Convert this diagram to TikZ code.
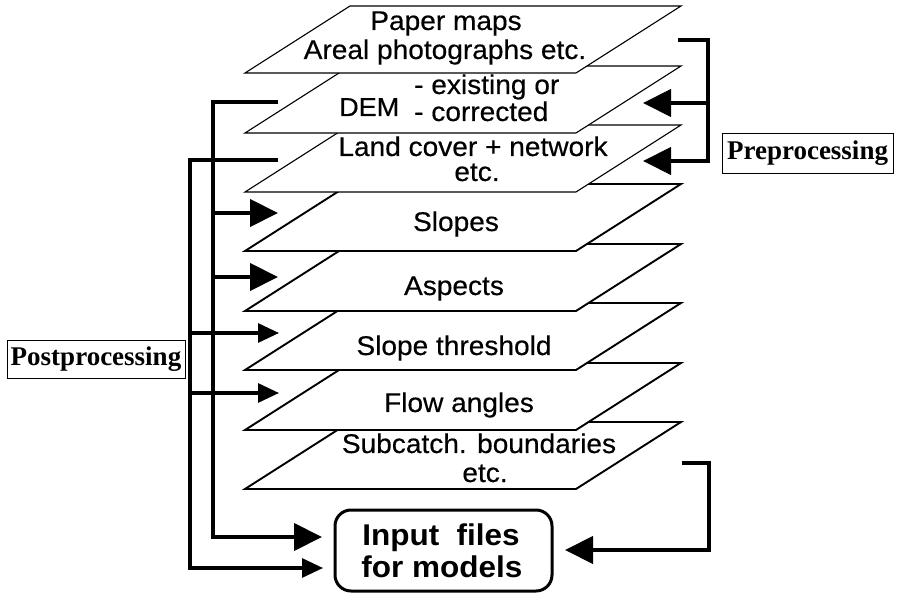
\documentclass[tikz,border=0pt]{standalone}
\usepackage{fontspec}
\setmainfont{Liberation Sans}
\newfontfamily\layfont[FakeStretch=1.04,FakeBold=0.4]{Liberation Sans}
\newfontfamily\boxfont[FakeStretch=1.05]{Liberation Sans}
\newfontfamily\procfont{Liberation Serif}
\usetikzlibrary{arrows.meta}
\newcommand\drawlayer[2]{\path[#1] (245,#2) -- (576,#2) -- (681,#2-67) -- (350,#2-67) -- cycle;}
\begin{document}
\begin{tikzpicture}[x=1pt,y=-1pt,
 thinlayer/.style={fill=white,draw=black,line width=1.1pt},
 boldlayer/.style={fill=white,draw=black,line width=1.9pt},
 lab/.style={font=\layfont\fontsize{27}{30}\selectfont,inner sep=0pt,anchor=base},
 labw/.style={lab,anchor=base west},
 demlab/.style={labw,font=\layfont\fontsize{26}{29}\selectfont},
 boxlab/.style={font=\boxfont\bfseries\fontsize{30}{33}\selectfont,inner sep=0pt,anchor=base},
 procbox/.style={draw=black,line width=0.9pt,font=\procfont\bfseries\fontsize{27}{30}\selectfont,inner sep=0pt},
 inputbox/.style={draw=black,line width=3pt,rounded corners=16pt,minimum width=217pt,minimum height=81pt,inner sep=0pt},
 bigbar/.style={line width=4.2pt},
 thinbar/.style={line width=3.1pt},
 bighead/.style={-{Triangle[length=28pt,width=27pt]}},
 smallhead/.style={-{Triangle[length=21pt,width=19pt]}}
]
\useasboundingbox (0,0) rectangle (897,593);
\fill[white] (0,0) rectangle (897,593);

% layers, from the bottom one up
\drawlayer{boldlayer}{489}
\node[lab] (sub1) at (479,453) {Subcatch. boundaries};
\node[lab] (sub2) at (485,482) {etc.};
\drawlayer{boldlayer}{430}
\node[lab] (flow) at (459,412) {Flow angles};
\drawlayer{boldlayer}{370}
\node[lab] (thr) at (454,355) {Slope threshold};
\drawlayer{boldlayer}{311}
\node[lab] (asp) at (454,295) {Aspects};
\drawlayer{boldlayer}{251}
\node[lab] (slo) at (456,231) {Slopes};
\drawlayer{thinlayer}{192}
\node[lab] (lc1) at (473,156) {Land cover + network};
\node[lab] (lc2) at (477,181) {etc.};
\drawlayer{thinlayer}{133}
\node[demlab] (dem) at (339,116) {DEM};
\node[labw] (dem1) at (414,94) {- existing or};
\node[labw] (dem2) at (414,121) {- corrected};
\drawlayer{thinlayer}{73}
\node[lab] (pm1) at (446,30) {Paper maps};
\node[lab] (pm2) at (445,59) {Areal photographs etc.};

% input box
\node[inputbox] (inbox) at (443.5,550.5) {};
\node[boxlab] (in1) at (441,545) {Input\ \ files};
\node[boxlab] (in2) at (442,577) {for models};

% labels
\node[procbox,minimum width=178pt,minimum height=38pt] (post) at (96,359) {Postprocessing};
\node[procbox,minimum width=171pt,minimum height=40pt] (pre) at (807.5,153) {Preprocessing};

% preprocessing bracket
\coordinate (prestart) at (678,40);
\coordinate (prex) at (708,40);
\coordinate (demin) at (643,103);
\coordinate (lcin) at (643,161);
\draw[bigbar,bighead] (prestart) -- (prex) -- (prex |- lcin) -- (lcin);
\draw[bigbar,bighead] (prex |- demin) -- (demin);

% postprocessing, inner line
\coordinate (instart) at (278,102);
\coordinate (inx) at (213,102);
\coordinate (sloin) at (278,213);
\coordinate (aspin) at (278,277);
\coordinate (boxin1) at (322,537);
\draw[bigbar,bighead] (instart) -- (inx) -- (inx |- boxin1) -- (boxin1);
\draw[bigbar,bighead] (inx |- sloin) -- (sloin);
\draw[bigbar,bighead] (inx |- aspin) -- (aspin);

% postprocessing, outer line
\coordinate (outstart) at (278,160);
\coordinate (outx) at (190,160);
\coordinate (thrin) at (279,333);
\coordinate (flowin) at (279,393);
\coordinate (boxin2) at (323,568);
\draw[thinbar,smallhead] (outstart) -- (outx) -- (outx |- boxin2) -- (boxin2);
\draw[thinbar,smallhead] (outx |- thrin) -- (thrin);
\draw[thinbar,smallhead] (outx |- flowin) -- (flowin);

% last layer to input files
\coordinate (substart) at (682,463);
\coordinate (subx) at (709,463);
\coordinate (boxin3) at (565,550);
\draw[bigbar,bighead] (substart) -- (subx) -- (subx |- boxin3) -- (boxin3);
\end{tikzpicture}
\end{document}
